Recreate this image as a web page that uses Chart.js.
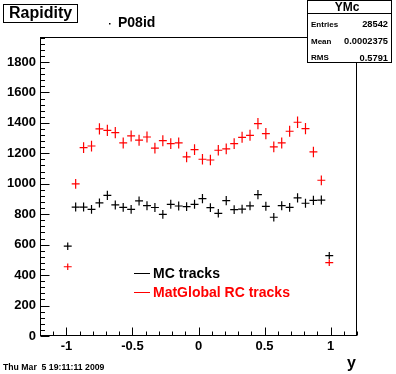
<!DOCTYPE html>
<html><head><meta charset="utf-8">
<script src="https://cdn.jsdelivr.net/npm/chart.js@4.4.0/dist/chart.umd.min.js"></script>
<style>html,body{margin:0;padding:0;background:#fff;}canvas{display:block;}</style>
</head><body>
<div style="width:396px;height:374px;position:relative"><canvas id="c" width="396" height="374"></canvas></div>
<script>
// ---- data ----
const binCenters = [-0.99,-0.93,-0.87,-0.81,-0.75,-0.69,-0.63,-0.57,-0.51,-0.45,-0.39,-0.33,-0.27,-0.21,-0.15,-0.09,-0.03,
  0.03,0.09,0.15,0.21,0.27,0.33,0.39,0.45,0.51,0.57,0.63,0.69,0.75,0.81,0.87,0.93,0.99];
const mcTracks = [590,847,847,832,874,924,861,845,832,887,856,844,799,865,854,850,865,
  902,843,806,889,830,834,855,928,852,780,856,845,907,872,891,893,528];
const rcTracks = [455,999,1237,1248,1360,1351,1336,1268,1314,1286,1307,1234,1283,1264,1268,1176,1224,
  1161,1156,1220,1229,1264,1305,1318,1395,1329,1242,1268,1345,1404,1362,1209,1023,482];
const xTickValues = [-1,-0.5,0,0.5,1];
const yTickValues = [0,200,400,600,800,1000,1200,1400,1600,1800];
const seriesNames = ["MC tracks","MatGlobal RC tracks"];
const seriesColors = ["#000000","#ff0000"];
const statsTitle = "YMc";
const statsRows = [["Entries","28542"],["Mean","0.0002375"],["RMS","0.5791"]];
const histTitle = "Rapidity";
const subTitle = "P08id";
const xAxisTitle = "y";
const dateText = "Thu Mar  5 19:11:11 2009";
const binWidth = 0.06;

const FONT = "'Liberation Sans', Arial, Helvetica, sans-serif";

const decor = {
  id: 'decor',
  afterDatasetsDraw(chart) {
    const ctx = chart.ctx, xs = chart.scales.x, ys = chart.scales.y;
    ctx.save();
    ctx.lineWidth = 1.2;
    chart.data.datasets.forEach((ds) => {
      ctx.strokeStyle = ds.borderColor;
      ds.data.forEach((p) => {
        const cx = xs.getPixelForValue(p.x), cy = ys.getPixelForValue(p.y);
        const x1 = xs.getPixelForValue(p.x - binWidth / 2), x2 = xs.getPixelForValue(p.x + binWidth / 2);
        const e = Math.sqrt(p.y);
        const y1 = ys.getPixelForValue(p.y - e), y2 = ys.getPixelForValue(p.y + e);
        ctx.beginPath();
        ctx.moveTo(x1, cy); ctx.lineTo(x2, cy);
        ctx.moveTo(cx, y1); ctx.lineTo(cx, y2);
        ctx.stroke();
      });
    });
    ctx.restore();
  },
  afterDraw(chart) {
    const ctx = chart.ctx, a = chart.chartArea, xs = chart.scales.x, ys = chart.scales.y;
    ctx.save();
    ctx.strokeStyle = '#000'; ctx.fillStyle = '#000'; ctx.lineWidth = 1;
    // frame
    ctx.strokeRect(Math.round(a.left) + 0.5, Math.round(a.top) + 0.5, Math.round(a.right - a.left) - 1, Math.round(a.bottom - a.top) - 1);
    const L = Math.round(a.left) + 0.5, B = Math.round(a.bottom) - 0.5;
    ctx.beginPath();
    // y ticks
    for (let v = 0; v <= ys.max; v += 40) {
      const y = Math.round(ys.getPixelForValue(v)) + 0.5;
      const len = (v % 200 === 0) ? 9 : 4.5;
      ctx.moveTo(L, y); ctx.lineTo(L + len, y);
    }
    // x ticks
    for (let i = -12; i <= 12; i++) {
      const v = i / 10;
      if (v < xs.min || v > xs.max) continue;
      const x = Math.round(xs.getPixelForValue(v)) + 0.5;
      const len = (i % 5 === 0) ? 8 : 4;
      ctx.moveTo(x, B); ctx.lineTo(x, B - len);
    }
    ctx.stroke();

    // title box
    ctx.fillStyle = '#fff';
    ctx.fillRect(3.5, 4.5, 74, 18);
    ctx.strokeRect(3.5, 4.5, 74, 18);
    ctx.fillStyle = '#000';
    ctx.font = 'bold 16px ' + FONT;
    ctx.textBaseline = 'middle'; ctx.textAlign = 'left';
    ctx.fillText(histTitle, 9, 14);
    // subtitle
    ctx.font = 'bold 14px ' + FONT;
    ctx.fillText(subTitle, 118, 23);
    ctx.fillRect(109, 23, 1.5, 1.5);

    // stats box
    ctx.fillStyle = '#fff';
    ctx.fillRect(307.5, 0.5, 84, 62);
    ctx.strokeRect(307.5, 0.5, 84, 62);
    ctx.beginPath(); ctx.moveTo(307.5, 13.5); ctx.lineTo(391.5, 13.5); ctx.stroke();
    ctx.fillStyle = '#000';
    ctx.font = 'bold 12px ' + FONT;
    ctx.textAlign = 'center';
    ctx.fillText(statsTitle, 347, 7.5);
    const rowsY = [24.5, 41.5, 58];
    statsRows.forEach((r, i) => {
      ctx.font = 'bold 8px ' + FONT;
      ctx.textAlign = 'left'; ctx.fillText(r[0], 311, rowsY[i]);
      ctx.font = 'bold 9.3px ' + FONT;
      ctx.textAlign = 'right'; ctx.fillText(r[1], 388, rowsY[i]);
    });

    // legend
    ctx.font = 'bold 14px ' + FONT;
    ctx.textAlign = 'left';
    const legY = [273, 292];
    seriesNames.forEach((n, i) => {
      ctx.strokeStyle = seriesColors[i]; ctx.fillStyle = seriesColors[i];
      ctx.beginPath(); ctx.moveTo(134, legY[i] + 0.5); ctx.lineTo(150, legY[i] + 0.5); ctx.stroke();
      ctx.fillText(n, 153, legY[i] + 1);
    });

    // date
    ctx.fillStyle = '#000';
    ctx.font = 'bold 8.7px ' + FONT;
    ctx.fillText(dateText, 3, 368);
    // x axis title
    ctx.font = 'bold 16px ' + FONT;
    ctx.textAlign = 'right';
    ctx.fillText(xAxisTitle, 356, 364);
    ctx.restore();
  }
};

new Chart(document.getElementById('c'), {
  type: 'scatter',
  data: {
    datasets: [
      { label: seriesNames[0], data: binCenters.map((x, i) => ({ x, y: mcTracks[i] })), borderColor: seriesColors[0], backgroundColor: seriesColors[0], pointRadius: 0, showLine: false },
      { label: seriesNames[1], data: binCenters.map((x, i) => ({ x, y: rcTracks[i] })), borderColor: seriesColors[1], backgroundColor: seriesColors[1], pointRadius: 0, showLine: false }
    ]
  },
  options: {
    responsive: false, devicePixelRatio: 1, animation: false,
    layout: { padding: { left: 0, top: 37, right: 39, bottom: 0 } },
    plugins: { legend: { display: false }, tooltip: { enabled: false }, title: { display: false } },
    scales: {
      x: {
        type: 'linear', min: -1.2, max: 1.2,
        afterBuildTicks: (s) => { s.ticks = xTickValues.map(v => ({ value: v })); },
        afterFit: (s) => { s.height = 38; },
        grid: { display: false, drawTicks: false }, border: { display: false },
        ticks: { color: '#000', font: { family: FONT, weight: 'bold', size: 13 }, padding: 3, maxRotation: 0, autoSkip: false,
          callback: (v) => String(v) }
      },
      y: {
        type: 'linear', min: 0, max: 1964,
        afterBuildTicks: (s) => { s.ticks = yTickValues.map(v => ({ value: v })); },
        afterFit: (s) => { s.width = 40; },
        grid: { display: false, drawTicks: false }, border: { display: false },
        ticks: { color: '#000', font: { family: FONT, weight: 'bold', size: 13 }, padding: 4, autoSkip: false,
          callback: (v) => String(v) }
      }
    }
  },
  plugins: [decor]
});
</script>
</body></html>
